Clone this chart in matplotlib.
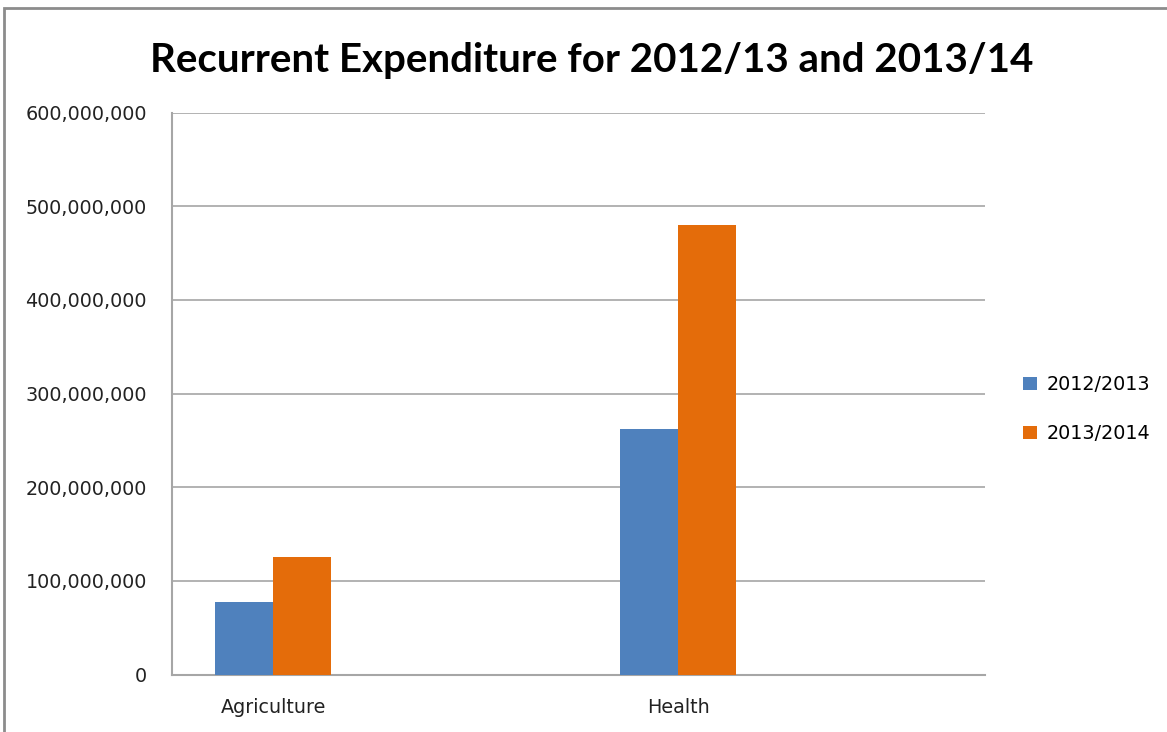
import numpy as np
import matplotlib.pyplot as plt
from matplotlib.patches import Rectangle
from matplotlib.ticker import FuncFormatter

categories = ['Agriculture', 'Health']
series_names = ['2012/2013', '2013/2014']
exp_2012_13 = [77_500_000, 262_000_000]
exp_2013_14 = [126_000_000, 480_000_000]
y_ticks = [0, 100_000_000, 200_000_000, 300_000_000, 400_000_000, 500_000_000, 600_000_000]

BLUE = '#4F81BD'
ORANGE = '#E46C0A'
GRID = '#A6A6A6'


def main():
    fig = plt.figure(figsize=(11.67, 7.32), dpi=100)
    ax = fig.add_axes([0.1474, 0.0785, 0.6966, 0.7675])

    x = np.arange(len(categories))
    width = 0.143
    ax.bar(x - width / 2, exp_2012_13, width, color=BLUE, label=series_names[0], zorder=3)
    ax.bar(x + width / 2, exp_2013_14, width, color=ORANGE, label=series_names[1], zorder=3)

    ax.set_xlim(-0.25, 1.758)
    ax.set_ylim(0, 600_000_000)
    ax.set_yticks(y_ticks)
    ax.yaxis.set_major_formatter(FuncFormatter(lambda v, p: f'{int(v):,}'))
    ax.set_xticks(x)
    ax.set_xticklabels(categories)

    ax.grid(axis='y', color=GRID, linewidth=1.2, zorder=0)
    for side in ['top', 'right']:
        ax.spines[side].set_visible(False)
    for side in ['left', 'bottom']:
        ax.spines[side].set_color(GRID)
        ax.spines[side].set_linewidth(1.5)
    ax.tick_params(axis='y', length=0, pad=18, labelsize=13.8, labelcolor='#222222')
    ax.tick_params(axis='x', length=0, pad=17, labelsize=13.8, labelcolor='#222222')

    fig.text(0.507, 0.918, 'Recurrent Expenditure for 2012/13 and 2013/14',
             ha='center', va='center', fontsize=29, fontweight='bold', family='Lato')

    ax.legend(loc='center left', bbox_to_anchor=(0.862, 0.441), bbox_transform=fig.transFigure,
              frameon=False, fontsize=13.8, handlelength=0.7, handleheight=0.7,
              handletextpad=0.5, labelspacing=1.55)

    # chart area border
    fig.patches.append(Rectangle((4 / 1167, -0.05), 1.2, (732 - 8) / 732 + 0.05,
                                 transform=fig.transFigure, fill=False,
                                 edgecolor='#8C8C8C', linewidth=2))

    fig.savefig('out.png', dpi=100)


if __name__ == '__main__':
    main()
